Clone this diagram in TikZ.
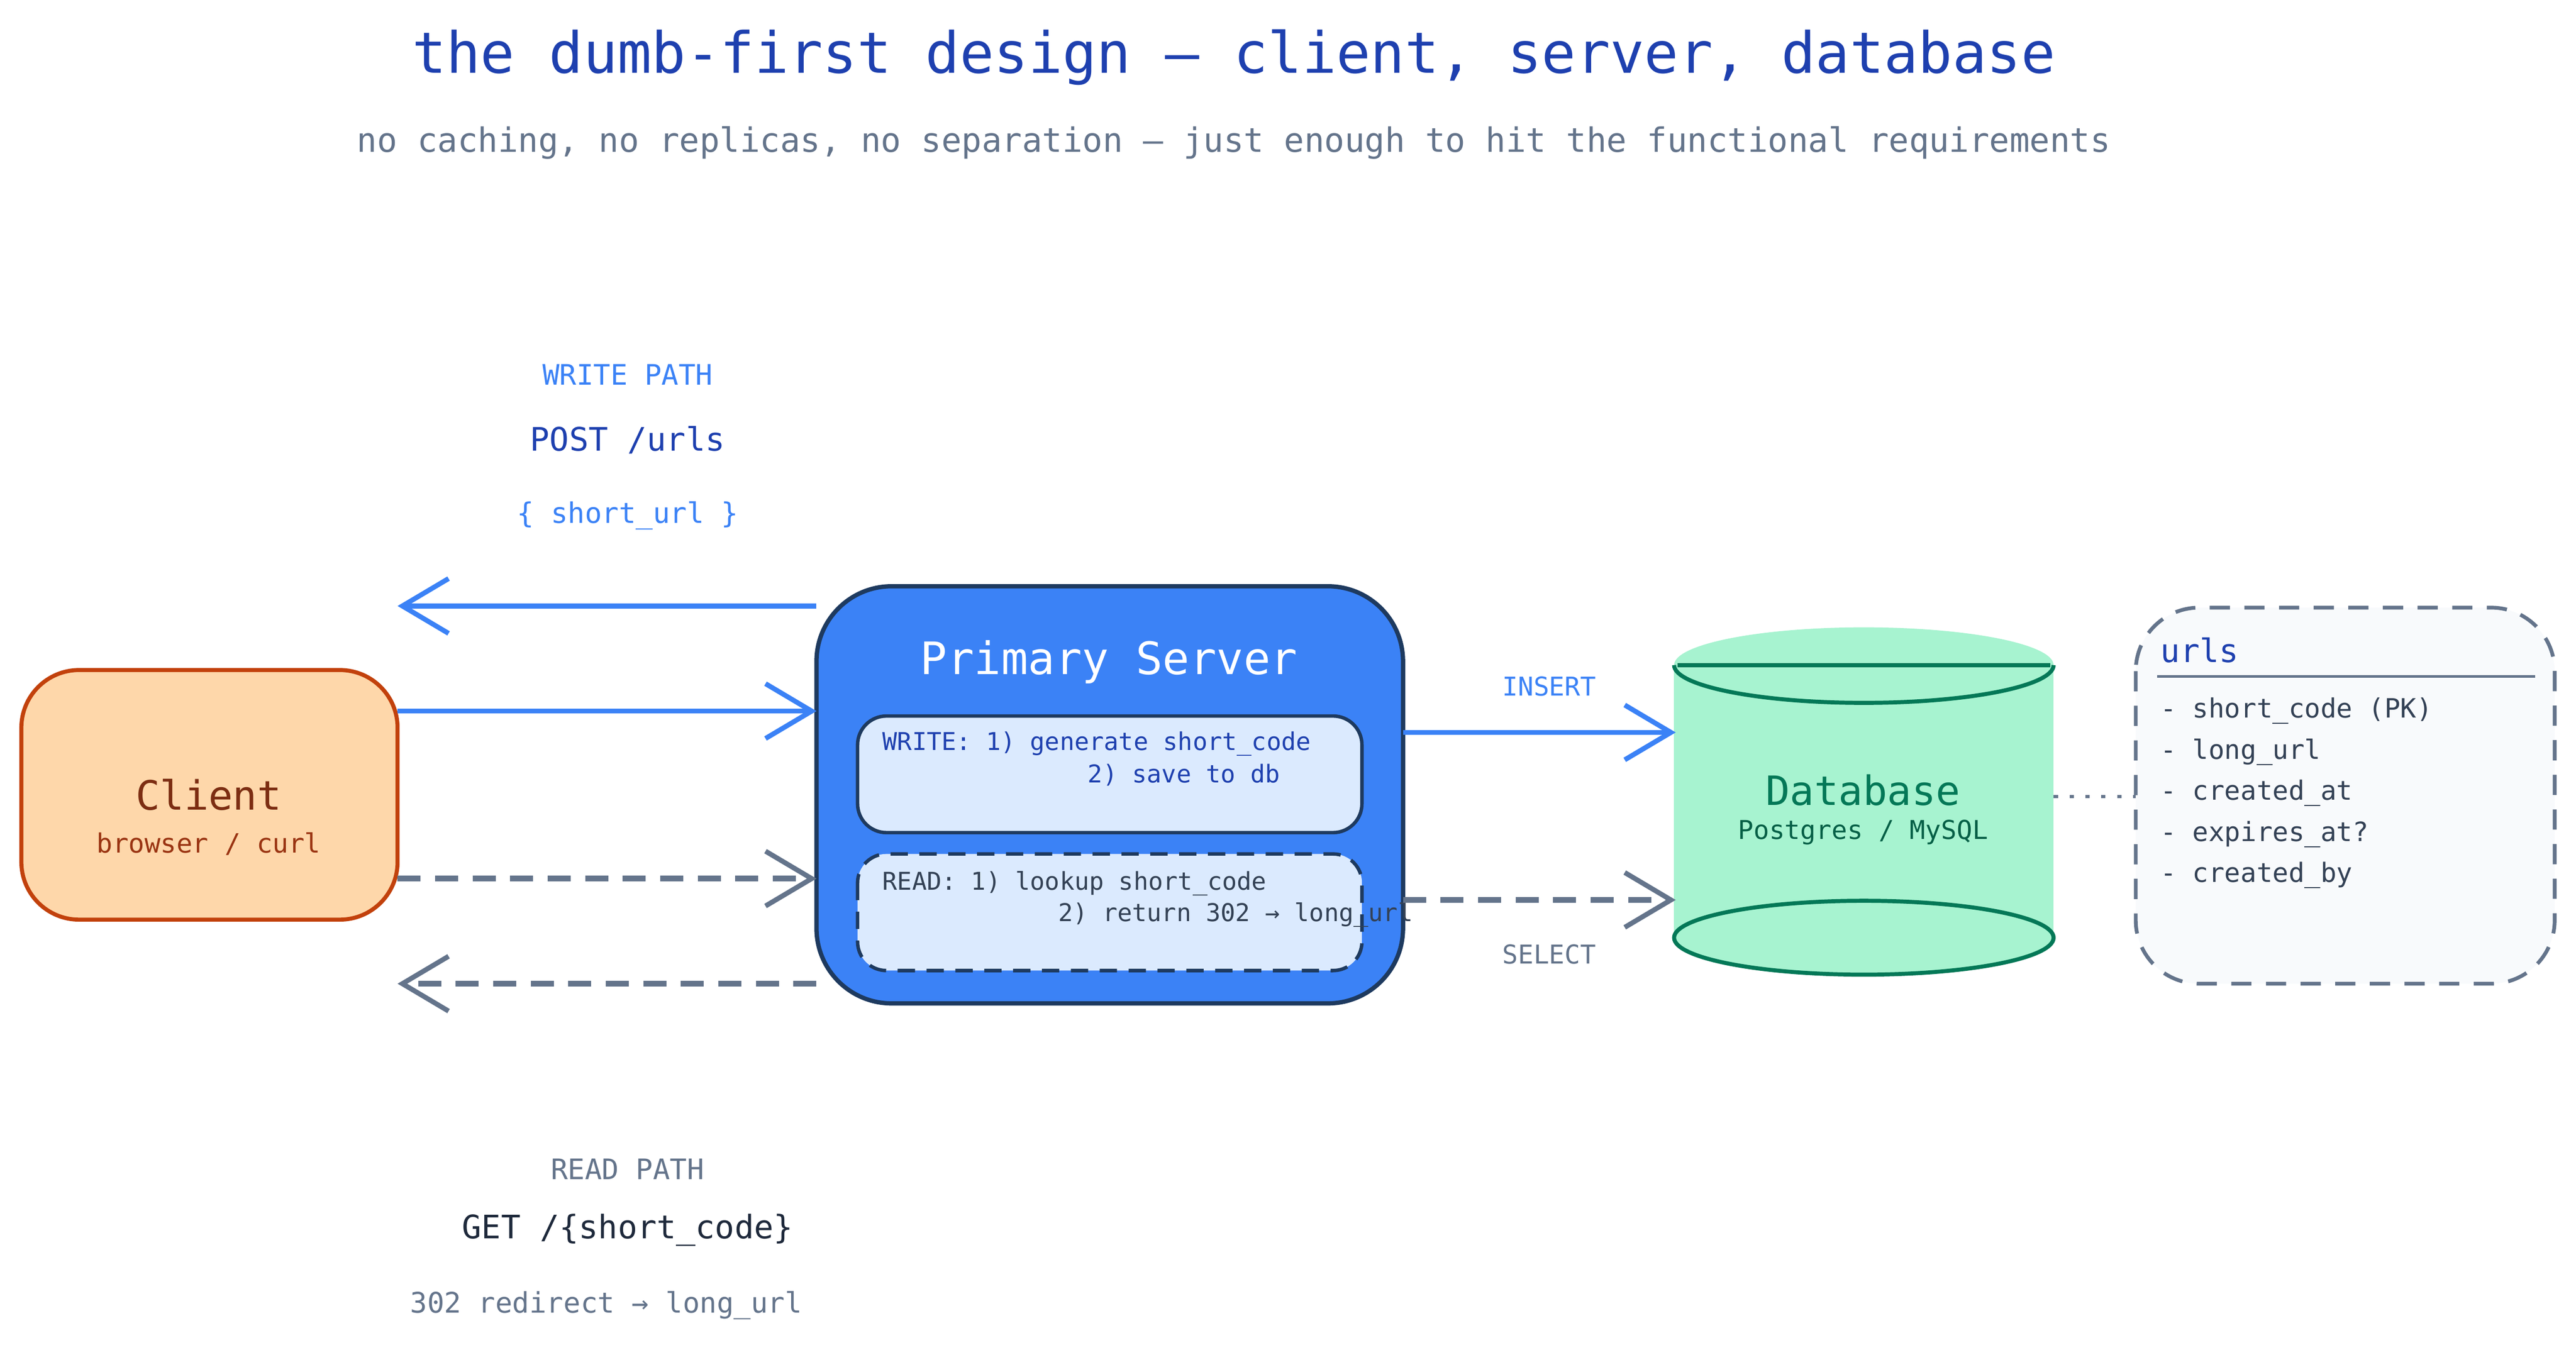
\documentclass[tikz,border=0pt]{standalone}
\usepackage{fontspec}
\setmainfont{DejaVu Sans Mono}
\usetikzlibrary{arrows.meta}
\definecolor{navy}{HTML}{1E3A5F}
\definecolor{blueA}{HTML}{3B82F6}
\definecolor{blueD}{HTML}{1E40AF}
\definecolor{grayA}{HTML}{64748B}
\definecolor{slate}{HTML}{334155}
\definecolor{slateD}{HTML}{1E293B}
\definecolor{greenD}{HTML}{047857}
\definecolor{greenF}{HTML}{A7F3D0}
\definecolor{greenT}{HTML}{065F46}
\definecolor{orS}{HTML}{C2410C}
\definecolor{orF}{HTML}{FED7AA}
\definecolor{orT}{HTML}{7C2D12}
\definecolor{orT2}{HTML}{9A3412}
\definecolor{lblue}{HTML}{DBEAFE}
\definecolor{tabF}{HTML}{F8FAFC}
\tikzset{
 fs/.style={font=\fontsize{#1}{#1}\selectfont},
 tip/.style={-{Straight Barb[length=16pt,width=19pt,line width=1.7pt]}},
 solidA/.style={tip,blueA,line width=1.7pt},
 dashA/.style={tip,grayA,line width=1.9pt,dash pattern=on 8pt off 5pt},
}
\begin{document}
\begin{tikzpicture}[x=0.02cm,y=-0.02cm]
\useasboundingbox (0,0) rectangle (1568,825);
\node[fs=19.7,blueD] (title) at (751,35) {the dumb-first design — client, server, database};
\node[fs=11.6,grayA] (sub) at (751,87) {no caching, no replicas, no separation — just enough to hit the functional requirements};
% client
\draw[draw=orS,fill=orF,line width=1.4pt,rounded corners=20pt] (13,408) rectangle (242,560);
\node[fs=14,orT] (client) at (127,484) {Client};
\node[fs=9.2,orT2] (clsub) at (127,514) {browser / curl};
% server
\draw[draw=navy,fill=blueA,line width=1.5pt,rounded corners=26pt] (497,357) rectangle (854,611);
\node[fs=15.5,white] (srv) at (675,403) {Primary Server};
\draw[draw=navy,fill=lblue,line width=1.2pt,rounded corners=10pt] (522,436) rectangle (829,507);
\draw[draw=navy,fill=lblue,line width=1.2pt,rounded corners=10pt,dash pattern=on 6pt off 4pt] (522,520) rectangle (829,591);
\node[fs=8.5,blueD,anchor=west] (w1) at (531,453) {WRITE: 1) generate short\_code};
\node[fs=8.5,blueD,anchor=west] (w2) at (656,472) {2) save to db};
\node[fs=8.5,slate,anchor=west] (r1) at (531,538) {READ: 1) lookup short\_code};
\node[fs=8.5,slate,anchor=west] (r2) at (638,557) {2) return 302 → long\_url};
% client-server arrows
\coordinate (s1) at (497,369); \coordinate (c1) at (242,369);
\coordinate (c2) at (242,433); \coordinate (s2) at (497,433);
\coordinate (c3) at (242,535); \coordinate (s3) at (497,535);
\coordinate (s4) at (497,599); \coordinate (c4) at (242,599);
\draw[solidA] (s1) -- (c1);
\draw[solidA] (c2) -- (s2);
\draw[dashA] (c3) -- (s3);
\draw[dashA] (s4) -- (c4);
\node[fs=9.8,blueA] (wp) at (382,228) {WRITE PATH};
\node[fs=11.2,blueD] (post) at (382,268) {POST /urls};
\node[fs=9.8,blueA] (surl) at (382,314) {\{ short\_url \}};
\node[fs=9.8,grayA] (rp) at (382,712) {READ PATH};
\node[fs=11.2,slateD] (get) at (382,749) {GET /\{short\_code\}};
\node[fs=9.8,grayA] (redir) at (369,795) {302 redirect → long\_url};
% database
\fill[greenF] (1019,405) rectangle (1250,571);
\fill[greenF] (1134.5,405) ellipse (115.5 and 23);
\draw[greenD,line width=1.4pt,fill=greenF] (1134.5,571) ellipse (115.5 and 22.5);
\draw[greenD,line width=1.4pt] (1019,405) arc[start angle=180,end angle=0,x radius=115.5,y radius=23];
\draw[greenD,line width=1.4pt] (1021,405) -- (1248,405);
\node[fs=14,greenD] (db) at (1134,481) {Database};
\node[fs=9,greenT] (dbsub) at (1134,507) {Postgres / MySQL};
\coordinate (d1) at (1020,446); \coordinate (d2) at (1020,548);
\coordinate (s5) at (854,446); \coordinate (s6) at (854,548);
\draw[solidA] (s5) -- (d1);
\draw[dashA] (s6) -- (d2);
\node[fs=9,blueA] (ins) at (943,418) {INSERT};
\node[fs=9,grayA] (sel) at (943,581) {SELECT};
% urls table
\draw[grayA,fill=tabF,line width=1.3pt,rounded corners=22pt,dash pattern=on 7pt off 5pt] (1300,370) rectangle (1555,599);
\coordinate (u0) at (1300,485); \coordinate (db0) at (1250,485);
\draw[grayA,line width=1.1pt,dash pattern=on 1.5pt off 4pt] (db0) -- (u0);
\node[fs=11.2,blueD,anchor=west] (uh) at (1309,396) {urls};
\draw[grayA,line width=0.9pt] (1313,412) -- (1543,412);
\foreach \t [count=\i] in {- short\_code (PK),- long\_url,- created\_at,- expires\_at?,- created\_by}
  \node[fs=9.2,slate,anchor=west] (f\i) at (1309,408+25*\i) {\t};
\end{tikzpicture}
\end{document}
